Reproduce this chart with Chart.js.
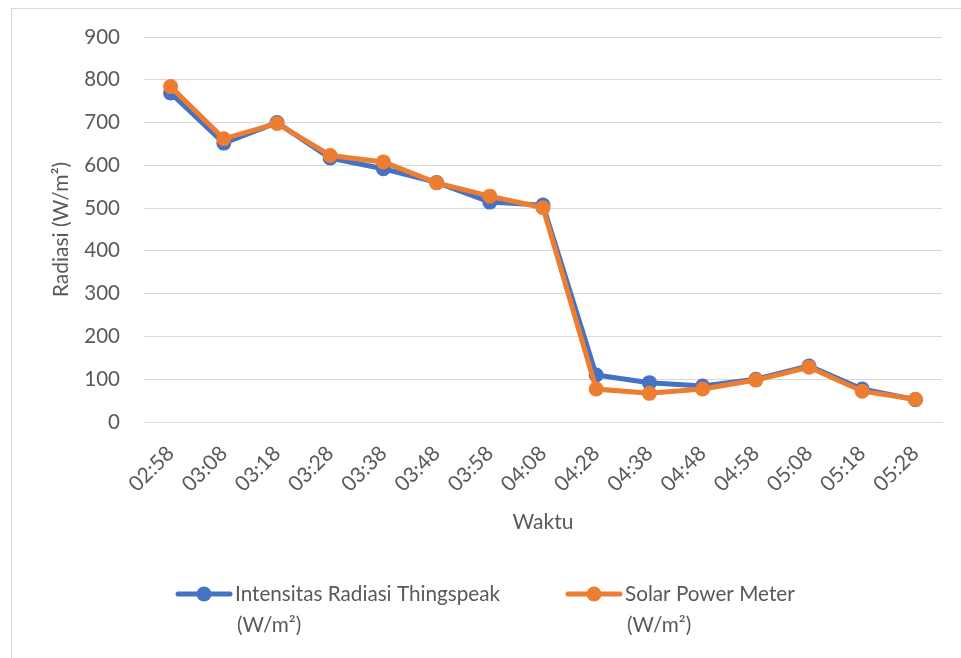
<!DOCTYPE html>
<html>
<head>
<meta charset="utf-8">
<script src="https://cdn.jsdelivr.net/npm/chart.js@4/dist/chart.umd.min.js"></script>
<style>
  html, body { margin: 0; padding: 0; background: #fff; }
  #wrap { position: relative; width: 961px; height: 658px; overflow: hidden; }
  #frame { position: absolute; left: 11px; top: 8px; width: 980px; height: 700px; border: 1px solid #d9d9d9; box-sizing: border-box; }
  canvas { position: absolute; left: 0; top: 0; }
</style>
</head>
<body>
<div id="wrap">
  <div id="frame"></div>
  <canvas id="chart" width="961" height="658"></canvas>
</div>
<script>
const times = ['02:58', '03:08', '03:18', '03:28', '03:38', '03:48', '03:58', '04:08', '04:28', '04:38', '04:48', '04:58', '05:08', '05:18', '05:28'];
const thingspeak = [769, 652, 700, 617, 592, 560, 514, 507, 110, 92, 84, 100, 131, 77, 52];
const powerMeter = [784, 662, 698, 623, 608, 559, 528, 501, 77, 67, 77, 98, 128, 72, 53];
const seriesNames = [['Intensitas Radiasi Thingspeak', '(W/m²)'], ['Solar Power Meter', '(W/m²)']];

const BLUE = '#4472C4';
const ORANGE = '#ED7D31';
const TEXT = '#595959';
const FONT = 'Lato, "Open Sans", sans-serif';

// legend drawn by hand: two-line labels with line + dot symbol
const legendPlugin = {
  id: 'excelLegend',
  afterDraw(chart) {
    const ctx = chart.ctx;
    const items = [
      { color: BLUE, x: 178, y: 594 },
      { color: ORANGE, x: 568, y: 594 }
    ];
    ctx.save();
    items.forEach((it, i) => {
      ctx.strokeStyle = it.color;
      ctx.lineWidth = 5;
      ctx.lineCap = 'round';
      ctx.beginPath();
      ctx.moveTo(it.x, it.y);
      ctx.lineTo(it.x + 52, it.y);
      ctx.stroke();
      ctx.fillStyle = it.color;
      ctx.beginPath();
      ctx.arc(it.x + 26, it.y, 7.5, 0, Math.PI * 2);
      ctx.fill();
      ctx.fillStyle = TEXT;
      ctx.font = '20.7px ' + FONT;
      ctx.textBaseline = 'middle';
      ctx.textAlign = 'left';
      ctx.fillText(seriesNames[i][0], it.x + 57, it.y);
      ctx.fillText(seriesNames[i][1], it.x + 59, it.y + 31);
    });
    ctx.restore();
  }
};

new Chart(document.getElementById('chart'), {
  type: 'line',
  data: {
    labels: times,
    datasets: [{
      label: seriesNames[0].join(' '),
      data: thingspeak,
      order: 1,
      borderColor: BLUE,
      backgroundColor: BLUE,
      borderWidth: 5,
      pointRadius: 7.5,
      pointBorderWidth: 0,
      tension: 0
    }, {
      label: seriesNames[1].join(' '),
      data: powerMeter,
      order: 0,
      borderColor: ORANGE,
      backgroundColor: ORANGE,
      borderWidth: 5,
      pointRadius: 7.5,
      pointBorderWidth: 0,
      tension: 0
    }]
  },
  options: {
    responsive: false,
    animation: false,
    layout: { padding: { left: 0, top: 37, right: 19, bottom: 123 } },
    plugins: {
      legend: { display: false },
      tooltip: { enabled: false }
    },
    scales: {
      x: {
        offset: true,
        grid: { display: false, drawTicks: false },
        border: { display: true, color: '#d9d9d9', width: 1 },
        ticks: { color: TEXT, font: { family: FONT, size: 21 }, minRotation: 45, maxRotation: 45, padding: 19, autoSkip: false },
        title: { display: true, text: 'Waktu', color: TEXT, font: { family: FONT, size: 21 }, padding: 0 },
        afterFit: s => { s.height = 113; }
      },
      y: {
        min: 0,
        max: 900,
        ticks: { stepSize: 100, color: TEXT, font: { family: FONT, size: 20.5 }, padding: 24 },
        grid: { color: '#d9d9d9', lineWidth: 1, drawTicks: false },
        border: { display: false },
        title: { display: true, text: 'Radiasi (W/m²)', color: TEXT, font: { family: FONT, size: 21 }, padding: { top: 49, bottom: 0 } },
        afterFit: s => { s.width = 144; }
      }
    }
  },
  plugins: [legendPlugin]
});
</script>
</body>
</html>
